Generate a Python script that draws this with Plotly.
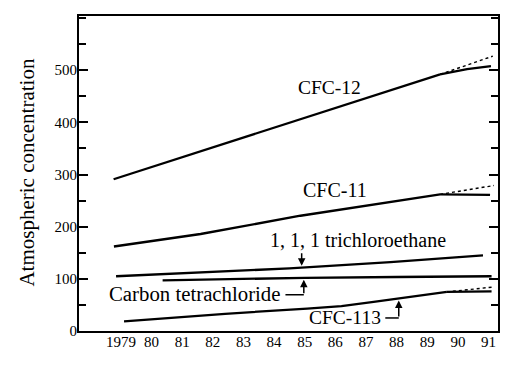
import numpy as np
import plotly.graph_objects as go

# ---- data (years, concentration) ----
cfc12_x = [1978.76, 1981.0, 1984.86, 1987.0, 1989.42]
cfc12_y = [291, 333, 406, 446, 492]
cfc12_obs_x = [1989.42, 1990.3, 1991.08]
cfc12_obs_y = [492, 502, 508]
cfc12_proj_x = [1989.42, 1991.14]
cfc12_proj_y = [492, 527]

cfc11_x = [1978.77, 1981.6, 1984.86, 1989.42]
cfc11_y = [162, 186, 221, 262]
cfc11_obs_x = [1989.42, 1991.05]
cfc11_obs_y = [262, 261]
cfc11_proj_x = [1989.42, 1991.18]
cfc11_proj_y = [262, 279]

tca_x = [1978.84, 1981.3, 1984.5, 1987.8, 1990.82]
tca_y = [105, 111, 120, 132, 145]

ctc_x = [1980.36, 1983.0, 1985.0, 1988.0, 1991.1]
ctc_y = [97, 100, 102, 103.5, 105]

cfc113_x = [1979.1, 1982.4, 1985.08, 1986.2, 1987.25, 1988.45, 1989.64]
cfc113_y = [18.5, 33, 43, 47.6, 55.8, 65.4, 74.9]
cfc113_obs_x = [1989.64, 1991.1]
cfc113_obs_y = [74.9, 76]
cfc113_proj_x = [1989.64, 1991.1]
cfc113_proj_y = [74.9, 84]

year_ticks = list(range(1979, 1992))
year_labels = ["1979", "80", "81", "82", "83", "84", "85", "86", "87", "88", "89", "90", "91"]
y_ticks = [0, 100, 200, 300, 400, 500]

FONT = "Liberation Serif, Times New Roman, serif"
LW = 2.3

fig = go.Figure()

def solid(x, y):
    fig.add_trace(go.Scatter(x=x, y=y, mode="lines",
                             line=dict(color="black", width=LW),
                             showlegend=False, hoverinfo="skip"))

def dotted(x, y):
    fig.add_trace(go.Scatter(x=x, y=y, mode="lines",
                             line=dict(color="black", width=1.4, dash="dot"),
                             showlegend=False, hoverinfo="skip"))

solid(cfc12_x, cfc12_y); solid(cfc12_obs_x, cfc12_obs_y); dotted(cfc12_proj_x, cfc12_proj_y)
solid(cfc11_x, cfc11_y); solid(cfc11_obs_x, cfc11_obs_y); dotted(cfc11_proj_x, cfc11_proj_y)
solid(tca_x, tca_y)
solid(ctc_x, ctc_y)
solid(cfc113_x, cfc113_y); solid(cfc113_obs_x, cfc113_obs_y); dotted(cfc113_proj_x, cfc113_proj_y)

# ---- labels ----
labels = [
    ("CFC-12", 1985.81, 467.6, 19.5),
    ("CFC-11", 1985.99, 269.5, 20),
    ("1, 1, 1 trichloroethane", 1986.74, 174.3, 20),
    ("Carbon tetrachloride", 1981.41, 71.4, 20.8),
    ("CFC-113", 1986.33, 25.7, 19.5),
]
for t, x, y, s in labels:
    fig.add_annotation(x=x, y=y, text=t, showarrow=False, xanchor="center", yanchor="middle",
                       font=dict(family=FONT, size=s, color="black"))

# ---- pointer arrows (tip placed on the series line) ----
tca_ax = 1984.9
fig.add_annotation(x=tca_ax, y=float(np.interp(tca_ax, tca_x, tca_y)), ax=tca_ax, ay=152,
                   axref="x", ayref="y", text="", showarrow=True, arrowhead=2, arrowsize=1,
                   arrowwidth=1.5, arrowcolor="black", standoff=2)

ctc_ax = 1984.97
fig.add_annotation(x=ctc_ax, y=float(np.interp(ctc_ax, ctc_x, ctc_y)), ax=ctc_ax, ay=69.5,
                   axref="x", ayref="y", text="", showarrow=True, arrowhead=2, arrowsize=1,
                   arrowwidth=1.5, arrowcolor="black", standoff=2)
fig.add_shape(type="line", x0=1984.37, x1=ctc_ax, y0=69.5, y1=69.5,
              line=dict(color="black", width=1.5))

f113_ax = 1988.07
fig.add_annotation(x=f113_ax, y=float(np.interp(f113_ax, cfc113_x, cfc113_y)), ax=f113_ax, ay=25,
                   axref="x", ayref="y", text="", showarrow=True, arrowhead=2, arrowsize=1,
                   arrowwidth=1.5, arrowcolor="black", standoff=2)
fig.add_shape(type="line", x0=1987.63, x1=f113_ax, y0=25, y1=25,
              line=dict(color="black", width=1.5))

# ---- y axis title ----
fig.add_annotation(x=-0.124, y=0.503, xref="paper", yref="paper", text="Atmospheric concentration",
                   textangle=-90, showarrow=False, xanchor="center", yanchor="middle",
                   font=dict(family=FONT, size=21, color="black"))

fig.update_xaxes(range=[1977.63, 1991.31], tickvals=year_ticks, ticktext=year_labels,
                 ticks="", showline=True, linecolor="black", linewidth=2, mirror=True,
                 showgrid=False, zeroline=False, ticklabelstandoff=-4,
                 tickfont=dict(family=FONT, size=15, color="black"))
fig.update_yaxes(range=[0, 604], tickvals=y_ticks, ticks="inside", ticklen=9, tickwidth=1.5,
                 tickcolor="black", showline=True, linecolor="black", linewidth=2, mirror="ticks",
                 showgrid=False, zeroline=False, ticklabelstandoff=-3,
                 minor=dict(dtick=50, ticks="inside", ticklen=7, tickwidth=1.5, tickcolor="black",
                            showgrid=False),
                 tickfont=dict(family=FONT, size=15, color="black"))

# page body has an 8px margin, so the figure is sized to fit the window after that offset
fig.update_layout(width=506, height=357, margin=dict(l=71, r=16, t=6, b=33.5),
                  paper_bgcolor="white", plot_bgcolor="white", showlegend=False)

fig.write_html("out.html")
